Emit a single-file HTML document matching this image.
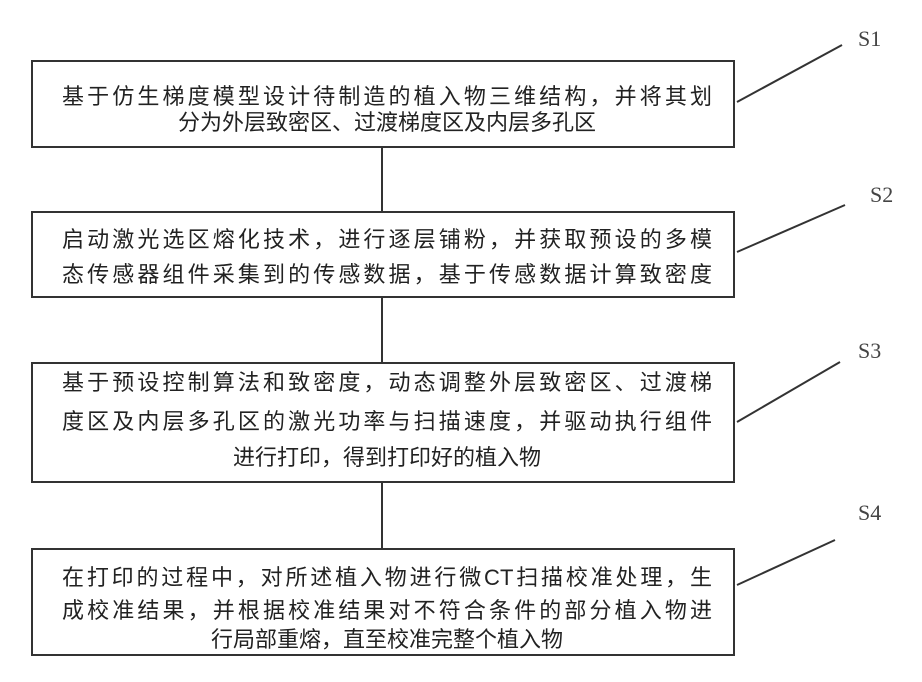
<!DOCTYPE html>
<html><head><meta charset="utf-8"><style>
body{margin:0;width:922px;height:682px;background:#fff;position:relative;overflow:hidden;font-family:"Liberation Sans","Noto Sans CJK SC",sans-serif;color:#222}
.box{position:absolute;left:31px;width:704px;border:2px solid #333;box-sizing:border-box;background:#fff}
.l{position:absolute;left:62px;width:650px;font-size:22px;line-height:26px;white-space:nowrap;text-align:justify;text-align-last:justify}
.c{text-align:center;text-align-last:center}
.s{position:absolute;font-family:"Liberation Serif",serif;font-size:22px;color:#444}
</style></head><body>
<svg width="922" height="682" style="position:absolute;left:0;top:0">
<g stroke="#333" stroke-width="2" fill="none">
<line x1="382" y1="147" x2="382" y2="211"/>
<line x1="382" y1="297" x2="382" y2="362"/>
<line x1="382" y1="482" x2="382" y2="548"/>
<line x1="737" y1="102" x2="842" y2="45"/>
<line x1="737" y1="252" x2="845" y2="205"/>
<line x1="737" y1="422" x2="840" y2="362"/>
<line x1="737" y1="585" x2="835" y2="540"/>
</g></svg>
<div class="box" style="top:60px;height:88px"></div>
<div class="box" style="top:211px;height:87px"></div>
<div class="box" style="top:362px;height:121px"></div>
<div class="box" style="top:548px;height:108px"></div>
<div class="l" style="top:84px">基于仿生梯度模型设计待制造的植入物三维结构，并将其划</div>
<div class="l c" style="top:110px">分为外层致密区、过渡梯度区及内层多孔区</div>
<div class="l" style="top:227px">启动激光选区熔化技术，进行逐层铺粉，并获取预设的多模</div>
<div class="l" style="top:262px">态传感器组件采集到的传感数据，基于传感数据计算致密度</div>
<div class="l" style="top:370px">基于预设控制算法和致密度，动态调整外层致密区、过渡梯</div>
<div class="l" style="top:409px">度区及内层多孔区的激光功率与扫描速度，并驱动执行组件</div>
<div class="l c" style="top:445px">进行打印，得到打印好的植入物</div>
<div class="l" style="top:565px">在打印的过程中，对所述植入物进行微CT扫描校准处理，生</div>
<div class="l" style="top:598px">成校准结果，并根据校准结果对不符合条件的部分植入物进</div>
<div class="l c" style="top:627px">行局部重熔，直至校准完整个植入物</div>
<div class="s" style="left:858px;top:26px">S1</div>
<div class="s" style="left:870px;top:182px">S2</div>
<div class="s" style="left:858px;top:338px">S3</div>
<div class="s" style="left:858px;top:500px">S4</div>
</body></html>
